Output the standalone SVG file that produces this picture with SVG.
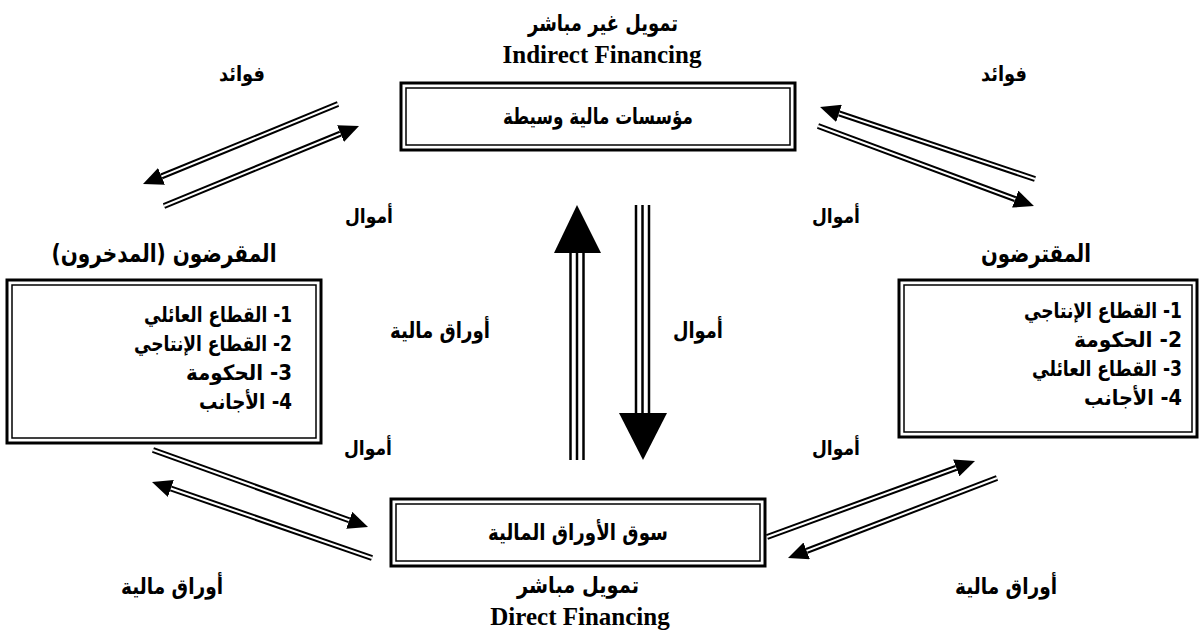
<svg xmlns="http://www.w3.org/2000/svg" width="1204" height="639" viewBox="0 0 1204 639">
<defs>
<style>
.ar{font-family:"DejaVu Sans","Noto Sans",sans-serif;font-weight:bold;fill:#000;direction:rtl}
.en{font-family:"Liberation Serif","Times New Roman",serif;font-weight:bold;fill:#000;font-size:25px}
.mid{text-anchor:middle}
.st{text-anchor:start}
.ob{fill:#fff;stroke:#000;stroke-width:3}
.ib{fill:none;stroke:#000;stroke-width:1.5}
.dk{stroke:#000;stroke-width:6;fill:none}
.wt{stroke:#fff;stroke-width:2;fill:none}
.tl{stroke:#000;stroke-width:2.5}
</style>
<marker id="head" markerUnits="userSpaceOnUse" markerWidth="20" markerHeight="18" viewBox="0 0 20 18" refX="0" refY="9" orient="auto"><path d="M0,0L20,9L0,18Z" fill="#000"/></marker>
</defs>
<rect width="1204" height="639" fill="#fff"/>

<g id="connectors">
<line class="dk" x1="338" y1="104" x2="161.5" y2="176.4" marker-end="url(#head)"/><line class="wt" x1="338" y1="104" x2="161.5" y2="176.4"/>
<line class="dk" x1="164" y1="206" x2="340.5" y2="133.6" marker-end="url(#head)"/><line class="wt" x1="164" y1="206" x2="340.5" y2="133.6"/>
<line class="dk" x1="1035" y1="179" x2="839" y2="113.4" marker-end="url(#head)"/><line class="wt" x1="1035" y1="179" x2="839" y2="113.4"/>
<line class="dk" x1="818" y1="126" x2="1015.2" y2="199.1" marker-end="url(#head)"/><line class="wt" x1="818" y1="126" x2="1015.2" y2="199.1"/>
<line class="dk" x1="153" y1="450" x2="349.2" y2="520.3" marker-end="url(#head)"/><line class="wt" x1="153" y1="450" x2="349.2" y2="520.3"/>
<line class="dk" x1="372" y1="558" x2="170.9" y2="488.5" marker-end="url(#head)"/><line class="wt" x1="372" y1="558" x2="170.9" y2="488.5"/>
<line class="dk" x1="767" y1="537" x2="956.2" y2="467.9" marker-end="url(#head)"/><line class="wt" x1="767" y1="537" x2="956.2" y2="467.9"/>
<line class="dk" x1="997" y1="478" x2="806.7" y2="550.9" marker-end="url(#head)"/><line class="wt" x1="997" y1="478" x2="806.7" y2="550.9"/>
<line class="tl" x1="570.5" y1="460" x2="570.5" y2="252"/>
<line class="tl" x1="577" y1="460" x2="577" y2="252"/>
<line class="tl" x1="583.5" y1="460" x2="583.5" y2="252"/>
<polygon points="554,253 601,253 577,205"/>
<line class="tl" x1="636" y1="205" x2="636" y2="414"/>
<line class="tl" x1="642.5" y1="205" x2="642.5" y2="414"/>
<line class="tl" x1="649" y1="205" x2="649" y2="414"/>
<polygon points="619,413 667,413 643,460"/>
</g>

<g id="labels">
<text class="ar mid" x="242" y="81" font-size="21" textLength="46" lengthAdjust="spacingAndGlyphs">فوائد</text>
<text class="ar mid" x="1004" y="81" font-size="21" textLength="46" lengthAdjust="spacingAndGlyphs">فوائد</text>
<text class="ar mid" x="369" y="223" font-size="20" textLength="48" lengthAdjust="spacingAndGlyphs">أموال</text>
<text class="ar mid" x="836" y="223" font-size="20" textLength="48" lengthAdjust="spacingAndGlyphs">أموال</text>
<text class="ar mid" x="440" y="338" font-size="22" textLength="100" lengthAdjust="spacingAndGlyphs">أوراق مالية</text>
<text class="ar mid" x="698" y="338" font-size="22" textLength="50" lengthAdjust="spacingAndGlyphs">أموال</text>
<text class="ar mid" x="368" y="455" font-size="20" textLength="48" lengthAdjust="spacingAndGlyphs">أموال</text>
<text class="ar mid" x="836" y="455" font-size="20" textLength="48" lengthAdjust="spacingAndGlyphs">أموال</text>
<text class="ar mid" x="172" y="594" font-size="22" textLength="102" lengthAdjust="spacingAndGlyphs">أوراق مالية</text>
<text class="ar mid" x="1006" y="594" font-size="22" textLength="102" lengthAdjust="spacingAndGlyphs">أوراق مالية</text>
</g>

<g id="intermediaries">
<text class="ar mid" x="603" y="31" font-size="23" textLength="150" lengthAdjust="spacingAndGlyphs">تمويل غير مباشر</text>
<text class="en mid" x="602" y="63">Indirect Financing</text>
<rect class="ob" x="401" y="83" width="394" height="67"/>
<rect class="ib" x="406" y="88" width="384" height="57"/>
<text class="ar mid" x="598" y="124" font-size="22" textLength="190" lengthAdjust="spacingAndGlyphs">مؤسسات مالية وسيطة</text>
</g>

<g id="lenders">
<text class="ar mid" x="164" y="262" font-size="25" textLength="225" lengthAdjust="spacingAndGlyphs">المقرضون (المدخرون)</text>
<rect class="ob" x="7" y="280" width="314" height="163"/>
<rect class="ib" x="12" y="285" width="304" height="153"/>
<text class="ar st" x="292" y="322" font-size="21" textLength="148" lengthAdjust="spacingAndGlyphs">1- القطاع العائلي</text>
<text class="ar st" x="292" y="351" font-size="21" textLength="158" lengthAdjust="spacingAndGlyphs">2- القطاع الإنتاجي</text>
<text class="ar st" x="292" y="380" font-size="21" textLength="106" lengthAdjust="spacingAndGlyphs">3- الحكومة</text>
<text class="ar st" x="292" y="409" font-size="21" textLength="93" lengthAdjust="spacingAndGlyphs">4- الأجانب</text>
</g>

<g id="borrowers">
<text class="ar mid" x="1036" y="262" font-size="25" textLength="110" lengthAdjust="spacingAndGlyphs">المقترضون</text>
<rect class="ob" x="899" y="280" width="298" height="157"/>
<rect class="ib" x="904" y="285" width="288" height="147"/>
<text class="ar st" x="1182" y="318" font-size="21" textLength="158" lengthAdjust="spacingAndGlyphs">1- القطاع الإنتاجي</text>
<text class="ar st" x="1182" y="347" font-size="21" textLength="108" lengthAdjust="spacingAndGlyphs">2- الحكومة</text>
<text class="ar st" x="1182" y="376" font-size="21" textLength="150" lengthAdjust="spacingAndGlyphs">3- القطاع العائلي</text>
<text class="ar st" x="1182" y="405" font-size="21" textLength="98" lengthAdjust="spacingAndGlyphs">4- الأجانب</text>
</g>

<g id="market">
<rect class="ob" x="391" y="499" width="374" height="67"/>
<rect class="ib" x="396" y="504" width="364" height="57"/>
<text class="ar mid" x="578" y="540" font-size="22" textLength="180" lengthAdjust="spacingAndGlyphs">سوق الأوراق المالية</text>
<text class="ar mid" x="578" y="593" font-size="23" textLength="122" lengthAdjust="spacingAndGlyphs">تمويل مباشر</text>
<text class="en mid" x="580" y="625">Direct Financing</text>
</g>
</svg>
